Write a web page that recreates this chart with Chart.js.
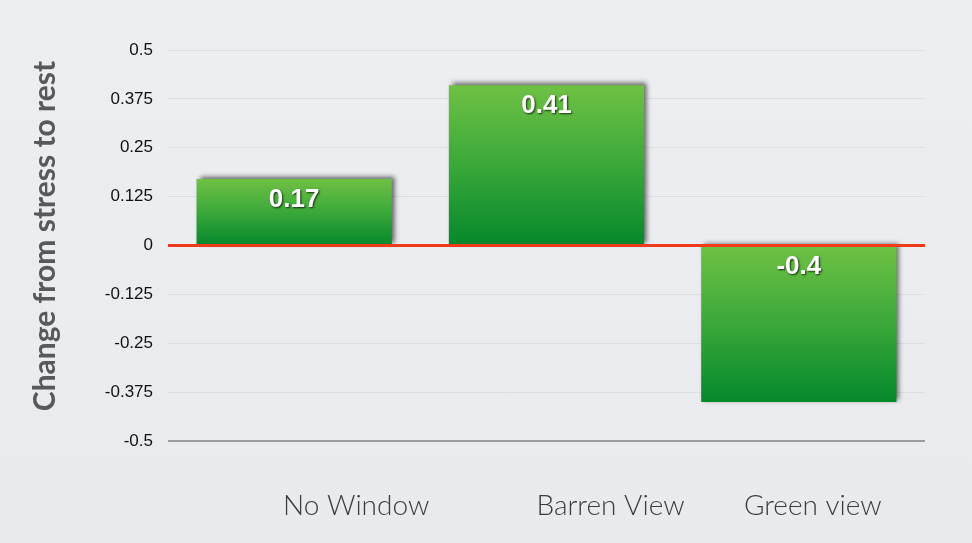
<!DOCTYPE html>
<html>
<head>
<meta charset="utf-8">
<script src="https://cdn.jsdelivr.net/npm/chart.js@4"></script>
<style>
html,body{margin:0;padding:0;}
body{width:972px;height:543px;background:linear-gradient(180deg,#edeef1 0%,#eaecef 60%,#e8eaed 100%);overflow:hidden;}
#wrap{position:relative;width:972px;height:543px;}
</style>
</head>
<body>
<div id="wrap"><canvas id="c" width="972" height="543"></canvas></div>
<script>
const categories = ["No Window", "Barren View", "Green view"];
const values = [0.17, 0.41, -0.4];
const valueLabels = ["0.17", "0.41", "-0.4"];
const yTicks = [0.5, 0.375, 0.25, 0.125, 0, -0.125, -0.25, -0.375, -0.5];
const yTitle = "Change from stress to rest";
const catLabelShift = [62, 64, 14];

function barGradient(ctx) {
  const chart = ctx.chart;
  const y = chart.scales.y;
  if (!y || ctx.dataIndex === undefined) return '#3aa83a';
  const v = values[ctx.dataIndex];
  const p1 = y.getPixelForValue(v), p0 = y.getPixelForValue(0);
  if (!isFinite(p1) || !isFinite(p0) || p1 === p0) return '#3aa83a';
  const top = Math.min(p1, p0), bot = Math.max(p1, p0);
  const g = chart.ctx.createLinearGradient(0, top, 0, bot);
  g.addColorStop(0, '#6fc143');
  g.addColorStop(0.5, '#3aa83a');
  g.addColorStop(1, '#05882b');
  return g;
}

const decor = {
  id: 'decor',
  beforeDatasetsDraw(chart) {
    const c = chart.ctx;
    c.save();
    c.shadowColor = 'rgba(0,0,0,0.6)';
    c.shadowBlur = 5;
    c.shadowOffsetX = 3;
    c.shadowOffsetY = -2;
  },
  afterDatasetsDraw(chart) {
    const c = chart.ctx;
    c.restore();
    const area = chart.chartArea;
    const y = chart.scales.y;
    c.save();
    c.strokeStyle = '#9b9b9b';
    c.lineWidth = 2;
    c.beginPath();
    c.moveTo(area.left, y.getPixelForValue(-0.5));
    c.lineTo(area.right, y.getPixelForValue(-0.5));
    c.stroke();
    c.strokeStyle = '#f03a1c';
    c.lineWidth = 3;
    c.beginPath();
    c.moveTo(area.left, y.getPixelForValue(0));
    c.lineTo(area.right, y.getPixelForValue(0));
    c.stroke();
    const meta = chart.getDatasetMeta(0);
    c.font = 'bold 26px "Liberation Sans", Arial, sans-serif';
    c.textAlign = 'center';
    c.textBaseline = 'middle';
    meta.data.forEach((el, i) => {
      const top = Math.min(el.y, el.base);
      c.shadowColor = 'rgba(0,0,0,0.75)';
      c.shadowBlur = 2;
      c.shadowOffsetX = 1;
      c.shadowOffsetY = 1;
      c.fillStyle = '#ffffff';
      c.fillText(valueLabels[i], el.x, top + 21);
    });
    c.restore();
  },
  afterDraw(chart) {
    const c = chart.ctx;
    const x = chart.scales.x;
    c.save();
    c.font = '300 28px Lato, "Open Sans", sans-serif';
    c.fillStyle = '#3c3c3c';
    c.textAlign = 'center';
    c.textBaseline = 'middle';
    categories.forEach((lab, i) => {
      c.fillText(lab, x.getPixelForValue(i) + catLabelShift[i], 506);
    });
    c.translate(45, 236);
    c.rotate(-Math.PI / 2);
    c.font = 'bold 30px Lato, "Open Sans", sans-serif';
    c.fillStyle = '#58595b';
    c.fillText(yTitle, 0, 0);
    c.restore();
  }
};

new Chart(document.getElementById('c'), {
  type: 'bar',
  data: {
    labels: categories,
    datasets: [{
      data: values,
      backgroundColor: barGradient,
      borderWidth: 0,
      categoryPercentage: 1,
      barPercentage: 0.774
    }]
  },
  options: {
    responsive: false,
    animation: false,
    layout: { padding: { left: 0, right: 47, top: 50, bottom: 102 } },
    plugins: { legend: { display: false }, tooltip: { enabled: false } },
    scales: {
      x: { display: false, offset: true },
      y: {
        min: -0.5, max: 0.5,
        afterBuildTicks(scale) { scale.ticks = yTicks.map(v => ({ value: v })); },
        afterFit(scale) { scale.width = 168; },
        border: { display: false },
        grid: { color: '#dcdde1', lineWidth: 1, drawTicks: false },
        ticks: {
          padding: 15,
          color: '#111111',
          font: { family: '"Liberation Sans", Arial, sans-serif', size: 17 },
          callback: (v) => String(v)
        }
      }
    }
  },
  plugins: [decor]
});
</script>
</body>
</html>
